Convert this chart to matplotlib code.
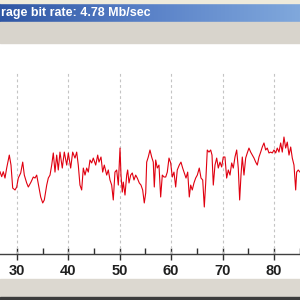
import numpy as np
import matplotlib.pyplot as plt
from matplotlib.patches import Rectangle
from matplotlib.colors import LinearSegmentedColormap

# time (sec) and bit rate (Mb/s)
times = [
    26.70, 27.03, 27.34, 27.67, 28.00, 28.51, 28.84, 29.17, 29.62, 29.95,
    30.26, 30.73, 31.12, 31.43, 31.89, 32.21, 32.73, 33.18, 33.51, 33.84,
    34.29, 34.62, 35.01, 35.32, 35.79, 36.10, 36.43, 36.76, 37.07, 37.40,
    37.73, 38.04, 38.37, 38.82, 39.21, 39.68, 39.99, 40.45, 40.84,
    41.29, 41.62, 41.93, 42.26, 42.59, 42.91, 43.24, 43.57, 43.88, 44.21,
    44.54, 44.85, 45.32, 45.71, 45.96, 46.35, 46.68, 46.99, 47.46, 47.77,
    48.10, 48.43, 48.74, 49.07, 49.40, 49.72, 50.05, 50.24, 50.49, 50.69,
    51.02, 51.35, 51.54, 51.80, 52.13, 52.44, 52.77, 53.10, 53.41, 53.80,
    54.13, 54.46, 54.77, 55.05, 55.24, 55.55,
    55.88, 56.21, 56.52, 56.72, 56.99, 57.30, 57.63, 57.96, 58.28, 58.61,
    58.94, 59.25, 59.58, 59.91, 60.22, 60.55, 60.88, 61.19, 61.58, 61.91,
    62.24, 62.56, 62.89, 63.22, 63.53, 63.80, 64.11, 64.44, 64.77, 65.09,
    65.47, 65.81, 66.14, 66.45, 66.72, 67.03, 67.36, 67.69, 67.95, 68.20,
    68.53, 68.86, 69.17, 69.50, 69.83, 70.14,
    70.47, 70.80, 71.12, 71.45, 71.78, 72.09, 72.42, 72.75, 73.06, 73.33,
    73.59, 73.84, 74.17, 74.50, 74.81, 75.14, 75.47, 75.79, 76.12, 76.45,
    76.76, 77.09, 77.42, 77.73, 78.06, 78.39, 78.70, 79.03, 79.36, 79.68,
    80.01, 80.34, 80.65, 80.98, 81.31, 81.62, 81.95, 82.28, 82.59, 82.93,
    83.26, 83.57, 83.90, 84.23, 84.42, 84.73, 85.07,
]
rates = [
    4.69, 4.41, 4.69, 4.33, 4.90, 5.64, 5.07, 3.76, 3.65, 3.82,
    4.33, 4.62, 5.24, 4.50, 4.05, 3.82, 4.10, 4.39, 4.33, 4.50,
    3.76, 3.25, 2.91, 3.08, 3.93, 4.33, 4.50, 5.07, 5.76, 4.67,
    5.64, 4.79, 5.81, 4.90, 5.81, 5.07, 5.76, 4.90, 5.81,
    5.47, 5.81, 5.07, 3.93, 3.65, 4.90, 4.50, 4.90, 4.67, 5.36,
    5.19, 5.47, 5.07, 5.64, 5.24, 5.53, 4.67, 5.07, 4.50, 4.79,
    4.22, 3.93, 3.08, 4.67, 4.79, 3.93, 6.04, 4.50, 3.53, 4.10,
    3.36, 4.50, 4.79, 4.05, 4.50, 4.62, 4.22, 4.50, 4.33, 4.05,
    3.93, 3.65, 2.91, 3.48, 5.24, 5.53,
    5.93, 5.53, 5.24, 3.82, 5.36, 4.90, 5.07, 3.25, 4.50, 4.39,
    4.39, 4.67, 5.47, 5.19, 4.39, 4.67, 3.82, 4.79, 5.07, 5.24,
    4.90, 4.62, 4.33, 4.67, 3.25, 3.93, 3.65, 4.05, 4.33, 4.50,
    4.90, 4.33, 4.22, 2.68, 4.05, 5.93, 5.81, 5.93, 5.64, 3.93,
    5.07, 5.47, 4.90, 5.24, 4.96, 5.53,
    5.53, 4.33, 4.79, 4.50, 5.19, 4.90, 5.53, 5.93, 4.90, 3.08,
    4.50, 5.53, 4.50, 5.47, 5.76, 6.04, 5.81, 5.64, 5.47, 5.24,
    5.07, 5.53, 5.81, 6.10, 6.33, 5.93, 6.04, 5.76, 5.81, 5.76,
    5.93, 5.76, 6.04, 5.81, 6.33, 5.81, 6.67, 6.04, 6.38, 5.64,
    6.10, 5.47, 5.07, 3.65, 4.67, 4.79, 4.67,
]
major_ticks = [30, 40, 50, 60, 70, 80]
minor_ticks = [35, 45, 55, 65, 75, 85]
title = "rage bit rate: 4.78 Mb/sec"  # window title, cut at the left in the screenshot

fig = plt.figure(figsize=(3, 3), dpi=100)
fig.patch.set_facecolor('white')

# window chrome: top strip, blue title bar, gray toolbar, gray status bar
fig.patches.append(Rectangle((0, 1 - 3/300), 1, 3/300, transform=fig.transFigure,
                             color='#eeeadb', zorder=0))
bar = fig.add_axes([0, 1 - 22/300, 1, 19/300])
grad = np.linspace(0, 1, 256).reshape(1, -1)
cmap = LinearSegmentedColormap.from_list('xp', ['#2f56a4', '#5a82c8', '#80a8dc'])
bar.imshow(grad, aspect='auto', cmap=cmap, extent=(0, 1, 0, 1))
bar.axis('off')
fig.patches.append(Rectangle((0, 1 - 43/300), 1, 21/300, transform=fig.transFigure,
                             color='#d8d4cc', zorder=0))
fig.patches.append(Rectangle((0, 3/300), 1, 18/300, transform=fig.transFigure,
                             color='#dcd8d0', zorder=0))
fig.patches.append(Rectangle((0, 0), 1, 3/300, transform=fig.transFigure,
                             color='#3c3c3c', zorder=0))
fig.text(1/300, 1 - 13/300, title, ha='left', va='center', color='white',
         fontsize=9, fontweight='bold', family=['Liberation Sans', 'DejaVu Sans'])

ax = fig.add_axes([0, 1 - 254/300, 1, 211/300])
ax.set_facecolor('white')
ax.set_xlim(26.7, 85.07)
ax.set_ylim(0, 12.03)

ax.vlines(major_ticks, 0, 10.37, colors='#c4c4c4', linestyles=(0, (2.5, 2.5)), linewidth=0.8)
ax.plot(times, rates, color='#e00010', linewidth=0.8)

for s in ['top', 'left', 'right']:
    ax.spines[s].set_visible(False)
ax.spines['bottom'].set_color('#404040')
ax.spines['bottom'].set_linewidth(1.0)
ax.set_yticks([])
ax.set_xticks(major_ticks)
ax.set_xticks(minor_ticks, minor=True)
ax.tick_params(axis='x', which='major', direction='inout', length=8, width=1,
               color='#303030', pad=3)
ax.tick_params(axis='x', which='minor', direction='in', length=4, width=1,
               color='#303030')
for lab in ax.get_xticklabels():
    lab.set_fontweight('bold')
    lab.set_fontsize(10.5)
    lab.set_family(['Liberation Sans', 'DejaVu Sans'])
    lab.set_color('#202020')

fig.savefig('out.png', dpi=100)
